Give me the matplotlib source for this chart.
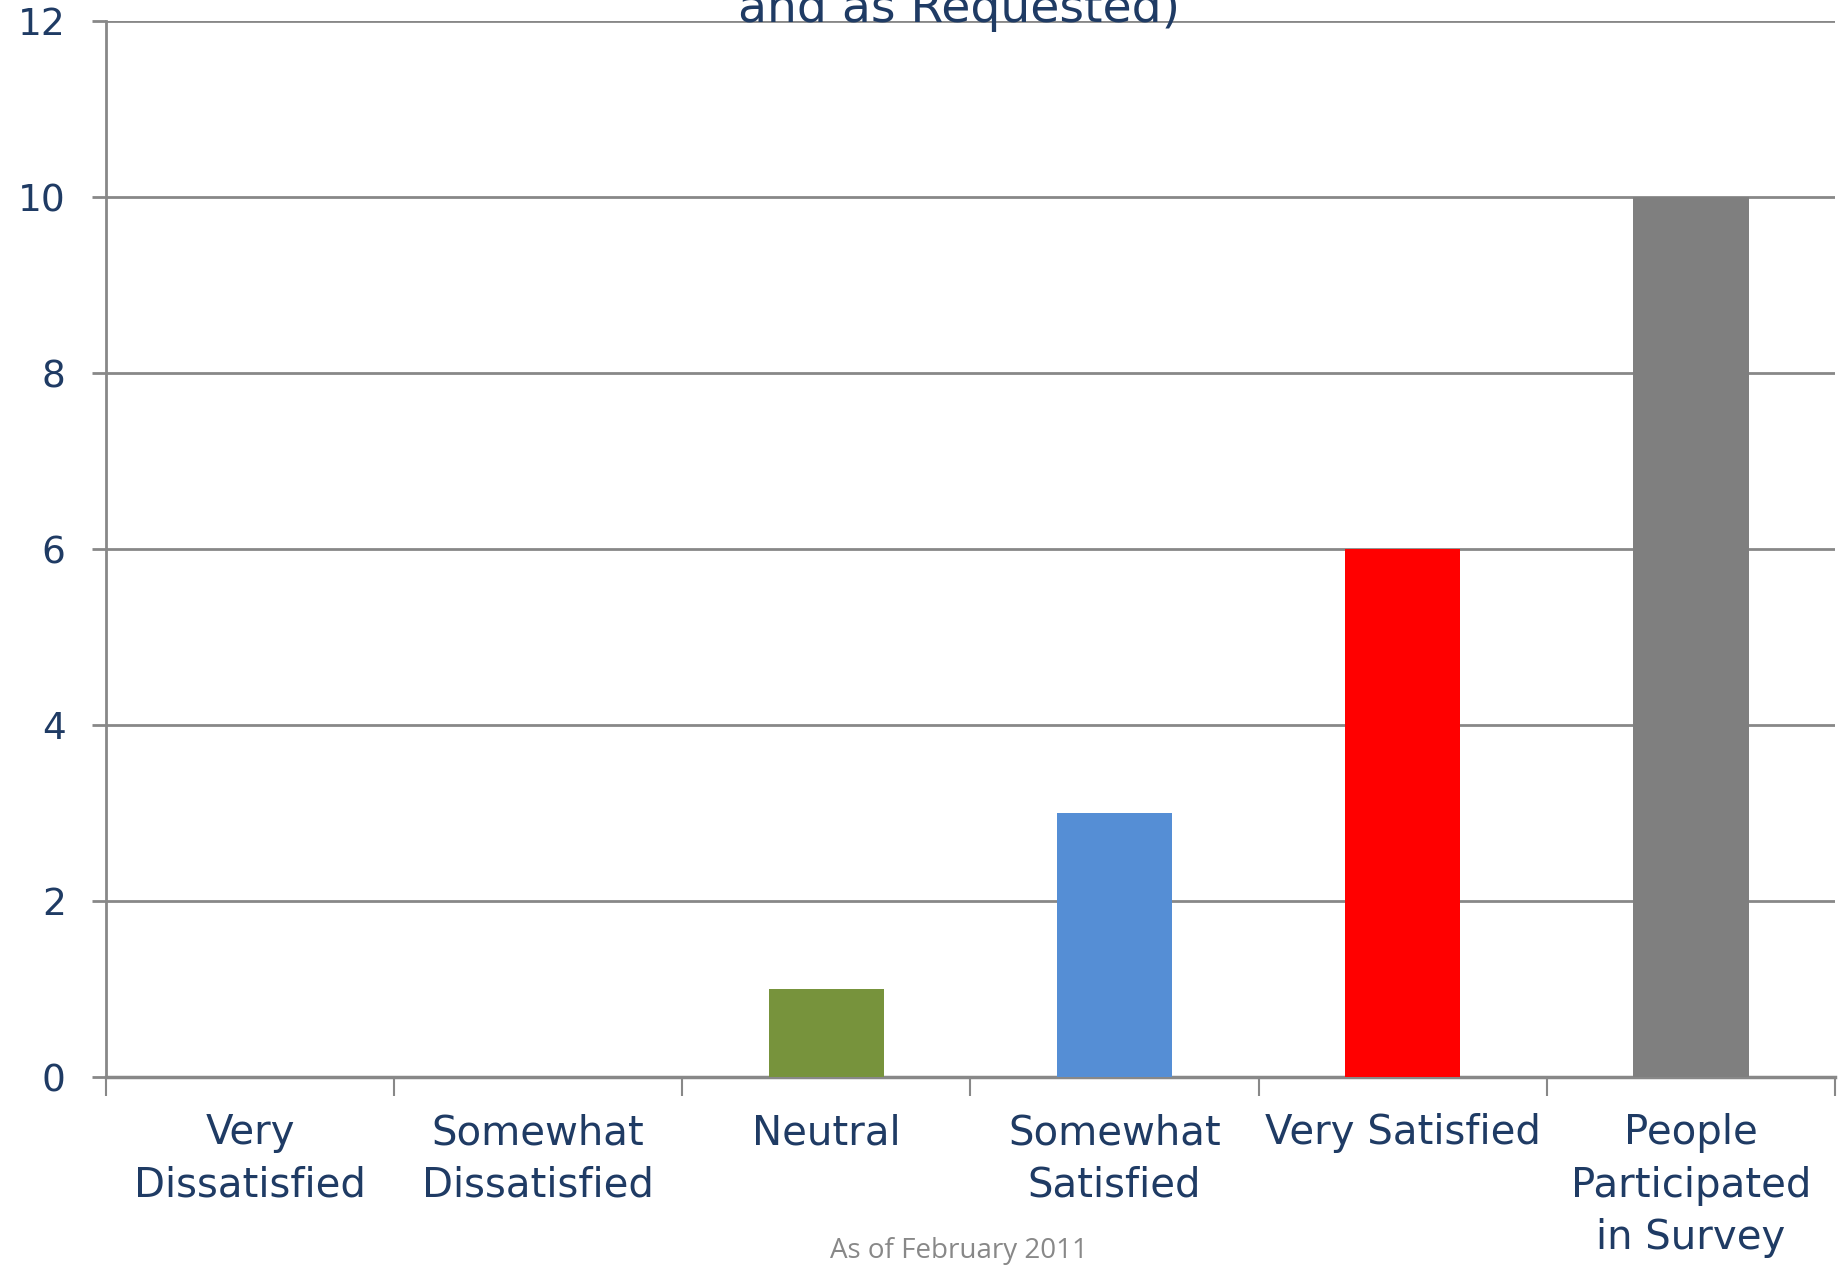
import numpy as np
import matplotlib.pyplot as plt

# valori
categories = ['Very\nDissatisfied', 'Somewhat\nDissatisfied', 'Neutral',
              'Somewhat\nSatisfied', 'Very Satisfied', 'People\nParticipated\nin Survey']
values = [0, 0, 1, 3, 6, 10]
bar_colors = ['#4F81BD', '#C0504D', '#77933C', '#558ED5', '#FF0000', '#7F7F7F']
yticks = [0, 2, 4, 6, 8, 10, 12]

navy = '#1F3B64'
grid_gray = '#888888'

fig = plt.figure(figsize=(18.49, 12.65), dpi=100)
ax = fig.add_axes([106/1849, 1 - 1077/1265, (1835-106)/1849, (1077-21)/1265])

x = np.arange(len(categories))
ax.bar(x, values, width=0.4, color=bar_colors, zorder=3)

ax.set_xlim(-0.5, len(categories) - 0.5)
ax.set_ylim(0, 12)
ax.set_yticks(yticks)
ax.set_yticklabels([str(v) for v in yticks])
ax.yaxis.grid(True, color=grid_gray, linewidth=2, zorder=0)
ax.tick_params(axis='y', length=10, width=2, color=grid_gray, pad=19,
               labelsize=27, labelcolor=navy)

# etichette categorie al centro, tacche ai bordi
ax.set_xticks(x)
ax.set_xticklabels(categories, linespacing=1.4)
ax.set_xticks(np.arange(len(categories) + 1) - 0.5, minor=True)
ax.tick_params(axis='x', which='major', length=0, pad=26, labelsize=29, labelcolor=navy)
ax.tick_params(axis='x', which='minor', length=14, width=1.5, color=grid_gray)

for s in ['top', 'right']:
    ax.spines[s].set_visible(False)
ax.spines['left'].set_color(grid_gray)
ax.spines['left'].set_linewidth(2)
ax.spines['bottom'].set_color(grid_gray)
ax.spines['bottom'].set_linewidth(2.5)

# titolo tagliato in alto
fig.text(959/1849, 1 - 22/1265, 'and as Requested)', ha='center', va='baseline',
         fontsize=34, color=navy)
fig.text(959/1849, 1 - 1251/1265, 'As of February 2011', ha='center', va='center',
         fontsize=20, color='#888888', family='Open Sans')

fig.savefig('out.png', dpi=100)
